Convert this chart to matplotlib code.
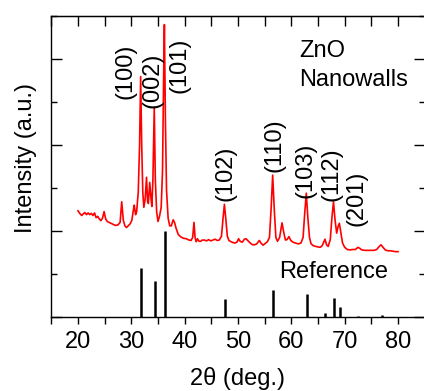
#!/usr/bin/env python3
import matplotlib
matplotlib.use("Agg")
import matplotlib.pyplot as plt
from matplotlib.ticker import MultipleLocator, NullFormatter

# ----------------- Data -----------------

# measured XRD pattern of the ZnO nanowalls (2theta, intensity a.u.)
two_theta = [
    20.0, 20.4, 20.7, 21.0, 21.3, 21.6, 21.9, 22.2, 22.5, 22.8, 23.1, 23.4,
    23.7, 24.0, 24.3, 24.6, 24.9, 25.2, 25.5, 26.0, 26.5, 27.0, 27.5, 27.9,
    28.2, 28.5, 28.8, 29.1, 29.4, 29.8, 30.1, 30.4, 30.55, 30.8, 31.0, 31.3,
    31.55, 31.75, 31.95, 32.15, 32.35, 32.6, 32.85, 33.05, 33.2, 33.45, 33.7,
    33.85, 34.05, 34.3, 34.5, 34.75, 35.0, 35.3, 35.6, 35.85, 36.05, 36.2,
    36.4, 36.6, 36.9, 37.2, 37.5, 37.85, 38.1, 38.4, 38.8, 39.3, 39.8, 40.3,
    40.8, 41.2, 41.5, 41.75, 41.95, 42.15, 42.4, 42.7, 43.0, 43.3, 43.7, 44.1,
    44.5, 44.9, 45.3, 45.7, 46.1, 46.5, 46.9, 47.2, 47.45, 47.7, 48.0, 48.3,
    48.7, 49.1, 49.4, 49.8, 50.1, 50.4, 50.8, 51.2, 51.5, 51.9, 52.3, 52.7,
    53.1, 53.5, 54.0, 54.3, 54.7, 55.1, 55.5, 55.9, 56.2, 56.5, 56.8, 57.1,
    57.4, 57.8, 58.25, 58.6, 58.9, 59.2, 59.55, 59.9, 60.3, 60.8, 61.3, 61.8,
    62.2, 62.5, 62.8, 63.1, 63.4, 63.7, 64.1, 64.6, 65.0, 65.4, 65.8, 66.3,
    66.6, 66.9, 67.3, 67.6, 67.9, 68.2, 68.5, 68.75, 69.0, 69.3, 69.6, 70.0,
    70.5, 71.0, 71.5, 72.0, 72.5, 72.8, 73.2, 73.8, 74.4, 75.0, 75.5, 76.0,
    76.4, 76.8, 77.2, 77.6, 78.1, 78.6, 79.1, 79.5, 80.0,
]
intensity = [
    2.47, 2.40, 2.36, 2.40, 2.43, 2.38, 2.42, 2.38, 2.41, 2.36, 2.42, 2.31,
    2.34, 2.28, 2.24, 2.30, 2.45, 2.28, 2.22, 2.19, 2.16, 2.13, 2.14, 2.20,
    2.68, 2.25, 2.12, 2.08, 2.12, 2.17, 2.25, 2.50, 2.60, 2.38, 2.45, 2.90,
    4.00, 5.59, 4.00, 2.90, 2.55, 2.75, 3.25, 2.68, 2.64, 3.13, 2.75,
    2.57, 3.20, 4.88, 3.20, 2.45, 2.22, 2.35, 2.55, 3.40, 5.50, 6.80,
    4.50, 2.95, 2.30, 2.12, 2.12, 2.26, 2.20, 2.06, 1.92, 1.86, 1.83, 1.82,
    1.79, 1.78, 1.85, 2.20, 1.85, 1.75, 1.82, 1.76, 1.76, 1.79, 1.79, 1.77,
    1.80, 1.77, 1.79, 1.81, 1.78, 1.79, 1.88, 2.30, 2.62, 2.30, 1.88, 1.78,
    1.75, 1.73, 1.72, 1.74, 1.82, 1.76, 1.74, 1.81, 1.82, 1.77, 1.72, 1.68,
    1.68, 1.70, 1.78, 1.72, 1.67, 1.71, 1.75, 1.85, 2.50, 3.30, 2.50, 1.85,
    1.76, 1.85, 2.19, 1.95, 1.79, 1.80, 1.87, 1.78, 1.74, 1.72, 1.70, 1.72,
    1.85, 2.40, 2.88, 2.30, 1.85, 1.70, 1.66, 1.64, 1.63, 1.62, 1.66, 1.81,
    1.68, 1.64, 1.80, 2.30, 2.68, 2.25, 1.95, 2.10, 2.18, 1.95, 1.72, 1.62,
    1.57, 1.56, 1.57, 1.57, 1.62, 1.60, 1.56, 1.55, 1.55, 1.55, 1.55, 1.57,
    1.63, 1.68, 1.62, 1.56, 1.54, 1.54, 1.53, 1.52, 1.52,
]

# reference (JCPDS) stick pattern
ref_pos = [31.8, 34.4, 36.25, 47.55, 56.6, 62.85, 66.4, 67.95, 69.1, 72.55, 76.95]
ref_int = [1.13, 0.84, 2.00, 0.43, 0.63, 0.53, 0.10, 0.45, 0.24, 0.03, 0.05]

# peak indices and where their labels sit
hkl_labels = ['(100)', '(002)', '(101)', '(102)', '(110)', '(103)', '(112)', '(201)']
hkl_xy = [(29.0, 5.72), (34.0, 5.51), (39.1, 5.86), (47.75, 3.33),
          (56.75, 4.0), (62.6, 3.42), (67.6, 3.33), (72.3, 2.77)]

# ----------------- Plot -----------------

plt.rcParams['font.family'] = ['Liberation Sans', 'DejaVu Sans']
FS = 17

fig = plt.figure(figsize=(4.24, 3.91), dpi=100)
ax = fig.add_axes([51.3 / 424, 74 / 391, 373.4 / 424, 301 / 391])

ax.plot(two_theta, intensity, color='red', lw=1.2)
ax.vlines(ref_pos, 0, ref_int, color='black', lw=1.8)

ax.set_xlim(15, 85)
ax.set_ylim(0, 7)

# x: bottom ticks outward, labelled
ax.xaxis.set_major_locator(MultipleLocator(10))
ax.xaxis.set_minor_locator(MultipleLocator(5))
ax.tick_params(axis='x', which='both', direction='out', length=5, width=1,
               labelsize=FS, pad=5, top=False)
# top ticks inward, unlabelled
top = ax.secondary_xaxis('top')
top.xaxis.set_major_locator(MultipleLocator(5))
top.xaxis.set_major_formatter(NullFormatter())
top.tick_params(axis='x', which='both', direction='in', length=7, width=1)

# y: inward on both sides, no labels
ax.yaxis.set_major_locator(MultipleLocator(2))
ax.yaxis.set_minor_locator(MultipleLocator(1))
ax.tick_params(axis='y', which='major', direction='in', length=8, width=1,
               left=True, right=True, labelleft=False)
ax.tick_params(axis='y', which='minor', direction='in', length=4.3, width=1,
               left=True, right=True)

for s in ax.spines.values():
    s.set_linewidth(1)

for lab, (lx, ly) in zip(hkl_labels, hkl_xy):
    ax.text(lx, ly, lab, rotation=90, ha='center', va='center', fontsize=FS)

ax.text(61.4, 6.05, 'ZnO', fontsize=FS, va='baseline')
ax.text(61.4, 5.37, 'Nanowalls', fontsize=FS, va='baseline')
ax.text(57.7, 0.91, 'Reference', fontsize=FS, va='baseline')

ax.text(-0.068, 0.528, 'Intensity (a.u.)', rotation=90, ha='center', va='center',
        fontsize=FS, transform=ax.transAxes)
ax.text(0.5, -0.226, '2\u03b8 (deg.)', ha='center', va='baseline',
        fontsize=FS, transform=ax.transAxes)

fig.savefig('out.png', dpi=100)
